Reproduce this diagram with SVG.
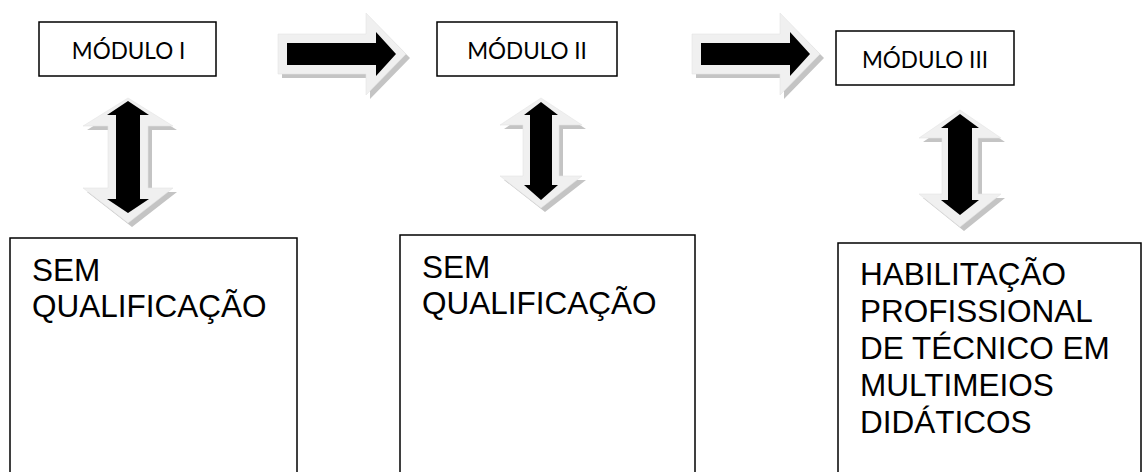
<svg xmlns="http://www.w3.org/2000/svg" width="1147" height="472" viewBox="0 0 1147 472">
<style>
.box{fill:#fff;stroke:#000;stroke-width:1.5}
.mod{font-family:Lato,"Open Sans",sans-serif;font-size:22.5px;fill:#000;text-anchor:middle}
.big{font-family:"Liberation Sans",Arial,sans-serif;font-size:31.5px;fill:#000}
.sh{fill:#c4c4c4}
.out{fill:#f0f0f0;stroke:#e4e4e4;stroke-width:0.6}
.in{fill:#000}
</style>
<defs>
<g id="rarrow">
<path class="sh" d="M282,38 H370 V18 L410,58 L370,99 V78 H282 Z"/>
<path class="out" d="M278,34 H366 V13 L406,54 L366,95 V74 H278 Z"/>
<path class="in" d="M287,43 H376 V32 L396,54 L376,76 V65 H287 Z"/>
</g>
</defs>
<rect width="1147" height="472" fill="#fff"/>
<g id="connectors">
<use href="#rarrow"/>
<use href="#rarrow" transform="translate(414,0)"/>
<g id="v1">
<path class="sh" d="M132,102 L177,130 H152 V192 H177 L132,227 L87,192 H112 V130 H87 Z"/>
<path class="out" d="M128,98 L173,126 H148 V188 H173 L128,223 L83,188 H108 V126 H83 Z"/>
<path class="in" d="M128,101 L149,115 H140 V199 H149 L128,213 L107,199 H116 V115 H107 Z"/>
</g>
<g id="v2">
<path class="sh" d="M545,102 L586,129 H563 V180 H586 L545,212 L504,180 H527 V129 H504 Z"/>
<path class="out" d="M541,98 L582,125 H559 V176 H582 L541,208 L500,176 H523 V125 H500 Z"/>
<path class="in" d="M541,102 L558,115 H552 V185 H558 L541,200 L524,185 H530 V115 H524 Z"/>
</g>
<g id="v3">
<path class="sh" d="M964,114 L1005,142 H982 V198 H1005 L964,231 L923,198 H946 V142 H923 Z"/>
<path class="out" d="M960,110 L1001,138 H978 V194 H1001 L960,227 L919,194 H942 V138 H919 Z"/>
<path class="in" d="M960,114 L979,128 H972 V200 H979 L960,215 L941,200 H948 V128 H941 Z"/>
</g>
</g>
<g id="mod1"><rect class="box" x="39" y="22" width="177" height="54"/><text class="mod" x="128.5" y="59">MÓDULO I</text></g>
<g id="mod2"><rect class="box" x="437" y="22" width="180" height="54"/><text class="mod" x="527" y="59">MÓDULO II</text></g>
<g id="mod3"><rect class="box" x="836" y="31" width="178" height="54"/><text class="mod" x="925" y="68">MÓDULO III</text></g>
<g id="res1"><rect class="box" x="10" y="238" width="287" height="250"/>
<text class="big" x="32" y="281">SEM</text><text class="big" x="32" y="317">QUALIFICAÇÃO</text></g>
<g id="res2"><rect class="box" x="400" y="235" width="295" height="250"/>
<text class="big" x="422" y="278">SEM</text><text class="big" x="422" y="314">QUALIFICAÇÃO</text></g>
<g id="res3"><rect class="box" x="838" y="243" width="303" height="250"/>
<text class="big" x="860" y="285">HABILITAÇÃO</text>
<text class="big" x="860" y="322">PROFISSIONAL</text>
<text class="big" x="860" y="359">DE TÉCNICO EM</text>
<text class="big" x="860" y="396">MULTIMEIOS</text>
<text class="big" x="860" y="433">DIDÁTICOS</text></g>
</svg>
